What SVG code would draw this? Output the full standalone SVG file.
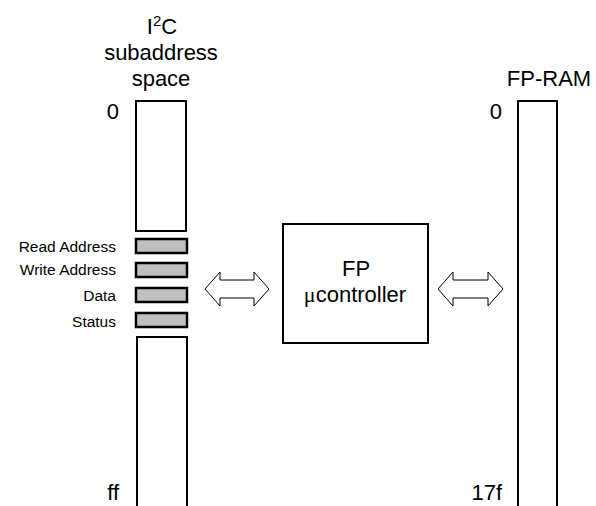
<svg xmlns="http://www.w3.org/2000/svg" width="596" height="506" viewBox="0 0 596 506">
<style>
text{font-family:"Liberation Sans",Arial,sans-serif;fill:#000}
.big{font-size:22px}
.lbl{font-size:15.5px;text-anchor:end}
.mid{text-anchor:middle}
.end{text-anchor:end}
.col{fill:#fff;stroke:#000;stroke-width:2}
.reg{fill:#c0c0c0;stroke:#000;stroke-width:2.5}
.arr{fill:#fff;stroke:#000;stroke-width:1}
</style>
<rect width="596" height="506" fill="#fff"/>
<g id="i2c-title">
<text class="big mid" x="162" y="34">I<tspan font-size="15" dy="-8">2</tspan><tspan dy="8">C</tspan></text>
<text class="big mid" x="161" y="60">subaddress</text>
<text class="big mid" x="161" y="86">space</text>
</g>
<g id="i2c-space">
<text class="big end" x="119" y="119">0</text>
<rect class="col" x="136" y="101" width="50" height="130"/>
<path class="col" d="M137,510 V337 H187 V510"/>
<text class="big end" x="119" y="500">ff</text>
</g>
<g id="reg-read">
<text class="lbl" x="116" y="252">Read Address</text>
<rect class="reg" x="136" y="239" width="51" height="14"/>
</g>
<g id="reg-write">
<text class="lbl" x="116" y="275">Write Address</text>
<rect class="reg" x="136" y="263" width="51" height="14"/>
</g>
<g id="reg-data">
<text class="lbl" x="116" y="301">Data</text>
<rect class="reg" x="136" y="288" width="51" height="14"/>
</g>
<g id="reg-status">
<text class="lbl" x="116" y="327">Status</text>
<rect class="reg" x="136" y="313" width="51" height="14"/>
</g>
<g id="fp-controller">
<rect x="283" y="224" width="145" height="119" fill="#fff" stroke="#000" stroke-width="2"/>
<text class="big mid" x="356" y="276">FP</text>
<text class="big mid" x="355" y="302"><tspan font-family="Liberation Serif, serif">μ</tspan>controller</text>
</g>
<g id="fp-ram">
<text class="big mid" x="549" y="86">FP-RAM</text>
<text class="big end" x="502" y="119">0</text>
<path class="col" d="M518,510 V101 H557 V510"/>
<text class="big end" x="502" y="500">17f</text>
</g>
<g id="connectors">
<path class="arr" d="M205,289 L220,272 V280 H254 V272 L269,289 L254,306 V298 H220 V306 Z"/>
<path class="arr" d="M438,289 L453,272 V280 H488 V272 L503,289 L488,306 V298 H453 V306 Z"/>
</g>
</svg>
